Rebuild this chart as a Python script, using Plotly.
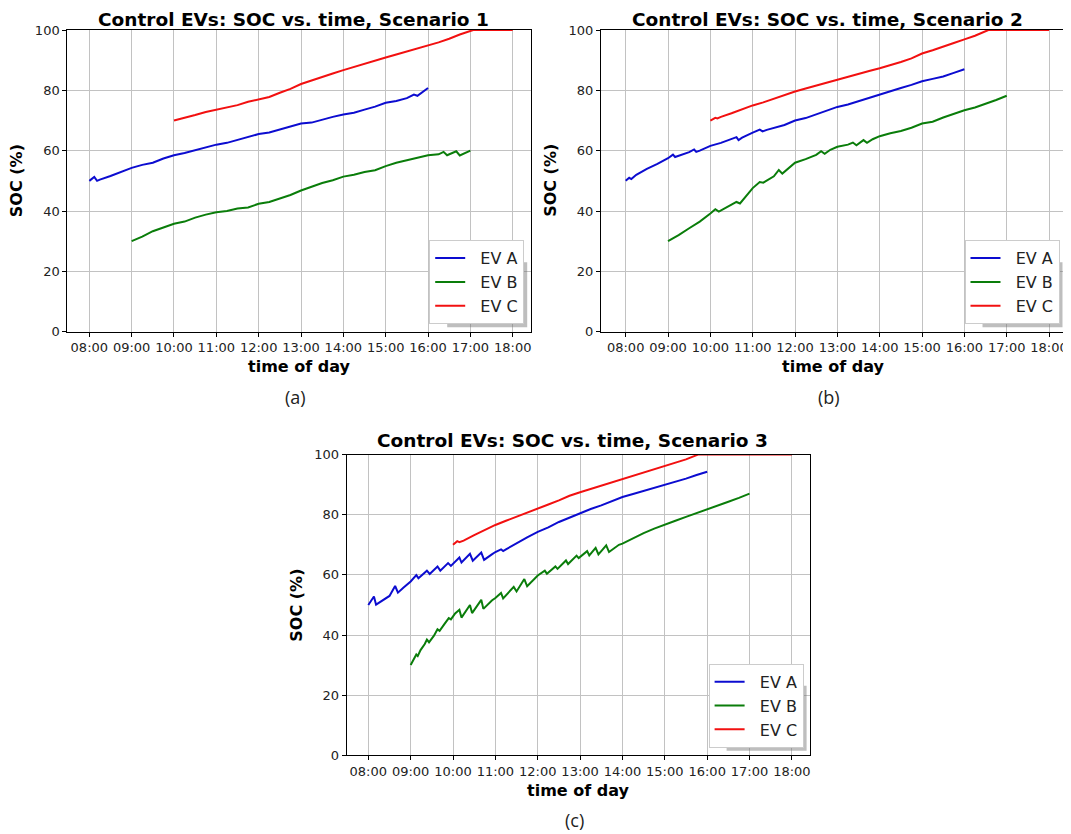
import plotly.graph_objects as go

# ---------------- data ----------------
series_names = ["EV A", "EV B", "EV C"]
tick_hours = [8, 9, 10, 11, 12, 13, 14, 15, 16, 17, 18]
tick_labels = ["08:00", "09:00", "10:00", "11:00", "12:00", "13:00",
               "14:00", "15:00", "16:00", "17:00", "18:00"]
soc_ticks = [0, 20, 40, 60, 80, 100]

# Scenario 1
s1_a_time = ("08:00 08:07 08:11 08:15 08:30 08:45 09:00 09:15 09:30 09:45 10:00 10:15 10:30 10:45 "
             "11:00 11:15 11:30 11:45 12:00 12:15 12:30 12:45 13:00 13:15 13:30 13:45 14:00 14:15 "
             "14:30 14:45 15:00 15:15 15:30 15:40 15:45 16:00").split()
s1_a_soc = [50.0, 51.3, 50.0, 50.4, 51.6, 53.0, 54.3, 55.3, 56.0, 57.4, 58.5, 59.2, 60.2, 61.0,
            62.0, 62.6, 63.5, 64.6, 65.5, 66.0, 67.0, 68.0, 69.0, 69.3, 70.3, 71.2, 72.0, 72.6,
            73.6, 74.6, 75.9, 76.5, 77.4, 78.6, 78.2, 80.8]
s1_b_time = ("09:00 09:15 09:30 09:45 10:00 10:15 10:30 10:45 11:00 11:15 11:30 11:45 12:00 12:15 "
             "12:30 12:45 13:00 13:15 13:30 13:45 14:00 14:15 14:30 14:45 15:00 15:15 15:30 15:45 "
             "16:00 16:15 16:22 16:27 16:40 16:45 16:55 17:00").split()
s1_b_soc = [30.0, 31.5, 33.3, 34.5, 35.8, 36.5, 37.8, 38.8, 39.6, 40.0, 40.8, 41.2, 42.4, 43.0,
            44.1, 45.3, 46.8, 48.0, 49.3, 50.2, 51.4, 52.0, 52.9, 53.5, 54.9, 56.0, 56.8, 57.5,
            58.5, 58.8, 59.6, 58.5, 59.8, 58.4, 59.6, 60.0]
s1_c_time = ("10:00 10:15 10:30 10:45 11:00 11:15 11:30 11:45 12:00 12:15 12:30 12:45 13:00 13:15 "
             "13:30 13:45 14:00 14:15 14:30 14:45 15:00 15:15 15:30 15:45 16:00 16:15 16:30 16:45 "
             "17:04 18:00").split()
s1_c_soc = [70.0, 70.8, 71.8, 72.8, 73.6, 74.2, 75.1, 76.2, 77.1, 77.8, 79.2, 80.5, 82.1, 83.3,
            84.6, 85.6, 86.7, 87.8, 88.9, 89.8, 90.9, 91.9, 92.9, 93.8, 94.8, 95.9, 97.1, 98.5,
            100.0, 100.0]

# Scenario 2
s2_a_time = ("08:00 08:05 08:08 08:15 08:30 08:45 09:00 09:07 09:10 09:15 09:30 09:37 09:40 09:45 "
             "10:00 10:15 10:30 10:37 10:40 10:45 11:00 11:10 11:14 11:20 11:45 12:00 12:15 12:30 "
             "12:45 13:00 13:15 13:30 13:45 14:00 14:15 14:30 14:45 15:00 15:15 15:30 15:45 16:00").split()
s2_a_soc = [50.0, 51.0, 50.6, 52.0, 54.0, 55.6, 57.5, 58.7, 57.9, 58.3, 59.5, 60.4, 59.6, 60.0,
            61.6, 62.6, 63.8, 64.5, 63.5, 64.3, 66.0, 67.0, 66.4, 66.9, 68.5, 70.0, 70.8, 72.0,
            73.2, 74.5, 75.3, 76.4, 77.6, 78.8, 79.8, 80.8, 81.8, 83.0, 83.8, 84.6, 85.8, 87.0]
s2_b_time = ("09:00 09:15 09:30 09:45 10:00 10:07 10:12 10:30 10:37 10:42 10:45 11:00 11:10 11:15 "
             "11:30 11:37 11:42 11:50 12:00 12:15 12:30 12:37 12:42 12:50 13:00 13:15 13:22 13:27 "
             "13:37 13:42 13:50 14:00 14:15 14:30 14:45 15:00 15:15 15:30 15:45 16:00 16:15 16:30 "
             "16:45 17:00").split()
s2_b_soc = [30.0, 32.0, 34.3, 36.5, 39.2, 40.6, 39.8, 42.0, 43.0, 42.5, 43.4, 47.6, 49.6, 49.4,
            51.5, 53.6, 52.4, 54.0, 56.0, 57.2, 58.6, 59.8, 59.0, 60.3, 61.3, 62.0, 62.7, 61.8,
            63.5, 62.6, 63.8, 64.8, 65.8, 66.5, 67.6, 69.0, 69.6, 71.0, 72.3, 73.4, 74.3, 75.5,
            76.8, 78.2]
s2_c_time = ("10:00 10:07 10:10 10:15 10:30 10:45 11:00 11:15 11:30 11:45 12:00 12:15 12:30 12:45 "
             "13:00 13:15 13:30 13:45 14:00 14:15 14:30 14:45 15:00 15:15 15:30 15:45 16:00 16:15 "
             "16:34 18:00").split()
s2_c_soc = [70.0, 70.9, 70.7, 71.2, 72.4, 73.8, 75.0, 76.0, 77.2, 78.5, 79.6, 80.6, 81.6, 82.6,
            83.6, 84.4, 85.4, 86.4, 87.3, 88.3, 89.4, 90.6, 92.2, 93.3, 94.4, 95.7, 96.9, 98.1,
            100.0, 100.0]

# Scenario 3
s3_a_time = ("08:00 08:08 08:11 08:20 08:30 08:38 08:42 08:50 09:00 09:08 09:11 09:23 09:27 09:38 "
             "09:42 09:53 09:57 10:09 10:12 10:24 10:28 10:40 10:44 10:55 11:00 11:08 11:11 11:15 "
             "11:30 11:45 12:00 12:15 12:30 12:45 13:00 13:15 13:30 13:45 14:00 14:15 14:30 14:45 "
             "15:00 15:15 15:30 15:45 16:00").split()
s3_a_soc = [50.0, 52.8, 50.1, 51.5, 53.0, 56.3, 54.1, 55.8, 57.8, 59.9, 58.9, 61.4, 60.3, 62.8,
            61.4, 63.9, 63.0, 65.8, 64.1, 67.0, 64.7, 67.4, 65.0, 66.8, 67.6, 68.5, 67.9, 68.5,
            70.6, 72.5, 74.3, 75.8, 77.6, 79.1, 80.6, 81.9, 83.1, 84.5, 85.9, 86.9, 87.9, 89.0,
            90.1, 91.1, 92.0, 93.2, 94.3]
s3_b_time = ("09:00 09:05 09:08 09:10 09:14 09:20 09:23 09:26 09:33 09:38 09:41 09:48 09:54 09:57 "
             "10:03 10:09 10:12 10:24 10:27 10:40 10:43 10:55 11:00 11:08 11:11 11:26 11:30 11:41 "
             "11:45 12:00 12:10 12:13 12:25 12:28 12:40 12:43 12:55 12:58 13:10 13:13 13:22 13:26 "
             "13:37 13:41 13:55 14:00 14:15 14:30 14:45 15:00 15:15 15:30 15:45 16:00 16:15 16:30 "
             "16:45 17:00").split()
s3_b_soc = [30.0, 32.0, 33.5, 33.0, 35.0, 37.0, 38.5, 37.6, 39.8, 41.9, 41.4, 43.7, 45.6, 45.2,
            47.2, 48.4, 45.8, 50.0, 47.3, 51.7, 48.7, 51.5, 52.3, 54.0, 52.2, 56.0, 54.5, 58.6,
            56.2, 59.8, 61.4, 60.4, 62.8, 62.0, 64.8, 63.6, 66.4, 65.6, 67.9, 66.5, 69.0, 66.8,
            69.8, 67.6, 70.0, 70.4, 72.2, 73.9, 75.4, 76.8, 78.0, 79.3, 80.5, 81.7, 83.0, 84.3,
            85.6, 87.0]
s3_c_time = ("10:00 10:06 10:09 10:15 10:30 10:45 11:00 11:15 11:30 11:45 12:00 12:15 12:30 12:45 "
             "13:00 13:15 13:30 13:45 14:00 14:15 14:30 14:45 15:00 15:15 15:30 15:47 18:00").split()
s3_c_soc = [70.0, 71.2, 70.9, 71.4, 73.2, 75.0, 76.6, 78.0, 79.3, 80.6, 82.0, 83.4, 84.8, 86.3,
            87.5, 88.6, 89.8, 90.9, 92.0, 93.1, 94.2, 95.2, 96.2, 97.3, 98.4, 100.0, 100.0]

titles = ["Control EVs: SOC vs. time, Scenario 1",
          "Control EVs: SOC vs. time, Scenario 2",
          "Control EVs: SOC vs. time, Scenario 3"]
captions = ["(a)", "(b)", "(c)"]

# ---------------- layout geometry (page pixels) ----------------
OFF = 8                      # default page (body) margin
FW, FH = 1071 - OFF, 834 - OFF


def px(x):
    return (x - OFF) / FW


def py(y):
    return 1 - (y - OFF) / FH


panels = [
    dict(l=67.3, r=530.7, t=30.0, b=331.7, xr=[7.48, 18.425], tc=19.0),
    dict(l=601.0, r=1066.0, t=30.0, b=331.7, xr=[7.417, 18.40], tc=19.0),
    dict(l=346.7, r=810.1, t=454.6, b=755.3, xr=[7.49, 18.43], tc=440.0),
]
colors = ["#0c0cd0", "#0a7d0a", "#f21010"]


def hours(ts):
    return [int(t[:2]) + int(t[3:]) / 60.0 for t in ts]


data = [
    [(s1_a_time, s1_a_soc), (s1_b_time, s1_b_soc), (s1_c_time, s1_c_soc)],
    [(s2_a_time, s2_a_soc), (s2_b_time, s2_b_soc), (s2_c_time, s2_c_soc)],
    [(s3_a_time, s3_a_soc), (s3_b_time, s3_b_soc), (s3_c_time, s3_c_soc)],
]

fig = go.Figure()
FONT = "DejaVu Sans"
annotations = []
shapes = []
layout = dict(
    width=FW, height=FH,
    margin=dict(l=0, r=0, t=0, b=0, pad=0, autoexpand=False),
    paper_bgcolor="white", plot_bgcolor="white",
    font=dict(family=FONT, size=13, color="#222"),
)

for i, p in enumerate(panels):
    k = "" if i == 0 else str(i + 1)
    xd = [px(p["l"]), px(p["r"])]
    yd = [py(p["b"]), py(p["t"])]
    for j, (ts, vs) in enumerate(data[i]):
        fig.add_trace(go.Scatter(
            x=hours(ts), y=vs, mode="lines", name="\u00a0\u00a0" + series_names[j],
            line=dict(color=colors[j], width=2),
            xaxis="x" + k, yaxis="y" + k,
            legend="legend" + k,
        ))
    common = dict(
        showline=True, mirror=True, linecolor="black", linewidth=1,
        showgrid=True, gridcolor="#c2c2c2", gridwidth=1,
        ticks="outside", ticklen=4, tickwidth=1, tickcolor="black",
        tickfont=dict(family=FONT, size=13, color="#222"),
        zeroline=False, fixedrange=True, automargin=False,
    )
    layout["xaxis" + k] = dict(common, domain=xd, range=p["xr"], anchor="y" + k,
                               tickmode="array", tickvals=tick_hours, ticktext=tick_labels)
    layout["yaxis" + k] = dict(common, domain=yd, range=[0, 100], anchor="x" + k,
                               tickmode="array", tickvals=soc_ticks)
    cxp = (p["l"] + p["r"]) / 2
    # title
    annotations.append(dict(text="<b>" + titles[i] + "</b>", x=px(cxp - 6), y=py(p["tc"]),
                            xref="paper", yref="paper", xanchor="center", yanchor="middle",
                            showarrow=False, borderpad=0,
                            font=dict(family=FONT, size=18.5, color="black")))
    # y label
    annotations.append(dict(text="<b>SOC (%)</b>", x=px(p["l"] - 50),
                            y=py((p["t"] + p["b"]) / 2),
                            xref="paper", yref="paper", xanchor="center", yanchor="middle",
                            textangle=-90, showarrow=False,
                            font=dict(family=FONT, size=16, color="black")))
    # x label
    annotations.append(dict(text="<b>time of day</b>", x=px(cxp), y=py(p["b"] + 35),
                            xref="paper", yref="paper", xanchor="center", yanchor="middle",
                            showarrow=False, font=dict(family=FONT, size=16, color="black")))
    # caption
    annotations.append(dict(text=captions[i], x=px(cxp - 4), y=py(p["b"] + 65),
                            xref="paper", yref="paper", xanchor="center", yanchor="middle",
                            showarrow=False, font=dict(family="Open Sans", size=18, color="#222")))
    # legend (anchored at its bottom-right corner)
    lr, lb = p["r"] - 6.5, p["b"] - 7.5
    layout["legend" + k] = dict(
        x=px(lr), y=py(lb), xanchor="right", yanchor="bottom",
        bgcolor="white", bordercolor="#cccccc", borderwidth=1,
        font=dict(family=FONT, size=16, color="#222"),
        itemwidth=30, tracegroupgap=0,
    )
    # legend drop shadow (only its right / bottom strips show behind the opaque legend)
    shapes.append(dict(type="rect", xref="paper", yref="paper",
                       x0=px(lr - 80 + 3), x1=px(lr + 3),
                       y0=py(lb + 3), y1=py(lb - 65 + 3),
                       fillcolor="rgba(110,110,110,0.45)", line=dict(width=0), layer="above"))

layout["annotations"] = annotations
layout["shapes"] = shapes
layout["showlegend"] = True
fig.update_layout(**layout)
fig.write_html("out.html")
